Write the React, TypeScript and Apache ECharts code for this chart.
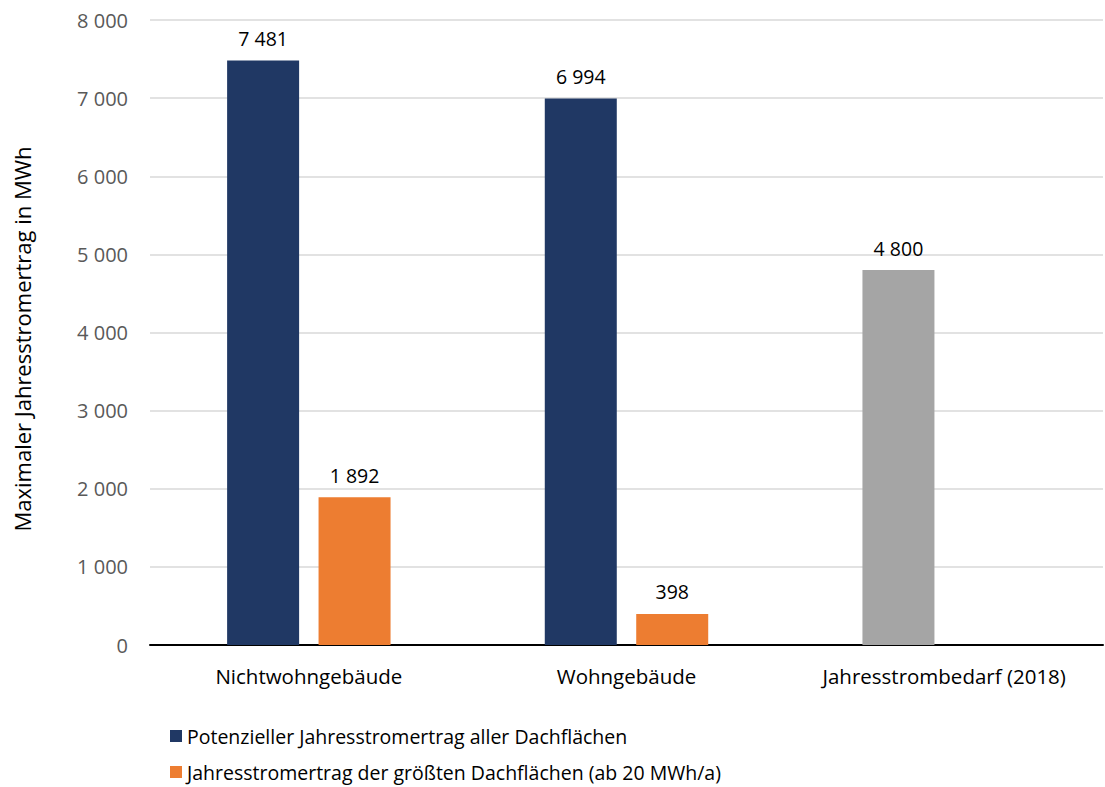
import React, { useEffect, useRef } from "react";
import * as echarts from "echarts";

const categories = ["Nichtwohngebäude", "Wohngebäude", "Jahresstrombedarf (2018)"];
const seriesNames = [
  "Potenzieller Jahresstromertrag aller Dachflächen",
  "Jahresstromertrag der größten Dachflächen (ab 20 MWh/a)",
];
const potenzialValues = [7481, 6994, 4800];
const groessteValues: (number | null)[] = [1892, 398, null];
const yTicks = { min: 0, max: 8000, interval: 1000 };
const yAxisTitle = "Maximaler Jahresstromertrag in MWh";

const fmt = (v: number) => String(v).replace(/\B(?=(\d{3})+(?!\d))/g, " ");

const FONT = "'Open Sans', sans-serif";

export default function App() {
  const ref = useRef<HTMLDivElement>(null);
  useEffect(() => {
    if (!ref.current) return;
    const chart = echarts.init(ref.current, undefined, { renderer: "svg" });
    const labelStyle = {
      show: true,
      position: "top" as const,
      distance: 12,
      color: "#000000",
      fontSize: 19.5,
      fontFamily: FONT,
      formatter: (p: any) => fmt(p.value),
    };
    const legendBase = {
      orient: "vertical",
      left: 165,
      itemWidth: 12,
      itemHeight: 12,
      icon: "rect",
      textStyle: { fontSize: 19.5, color: "#000000", fontFamily: FONT },
    };
    chart.setOption({
      animation: false,
      textStyle: { fontFamily: FONT },
      grid: { left: 150, right: 2, top: 20, bottom: 142, containLabel: false },
      legend: [
        { ...legendBase, top: 721, data: [seriesNames[0]] },
        { ...legendBase, top: 757, data: [seriesNames[1]] },
      ],
      graphic: [
        {
          type: "text",
          x: 22,
          y: 339,
          rotation: Math.PI / 2,
          style: {
            text: yAxisTitle,
            fill: "#000000",
            fontSize: 22,
            fontFamily: FONT,
            align: "center",
            verticalAlign: "middle",
          },
        },
      ],
      xAxis: {
        type: "category",
        data: categories,
        axisLine: { lineStyle: { color: "#000000", width: 2 } },
        axisTick: { show: false },
        axisLabel: { color: "#000000", fontSize: 20.5, margin: 20, fontFamily: FONT },
      },
      yAxis: {
        type: "value",
        min: yTicks.min,
        max: yTicks.max,
        interval: yTicks.interval,
        axisLine: { show: false },
        axisTick: { show: false },
        axisLabel: {
          color: "#595959",
          fontSize: 20,
          margin: 22,
          fontFamily: FONT,
          formatter: (v: number) => fmt(v),
        },
        splitLine: { lineStyle: { color: "#d9d9d9", width: 1.5 } },
      },
      series: [
        {
          name: seriesNames[0],
          type: "bar",
          data: potenzialValues.map((v, i) =>
            i === 2 ? { value: v, itemStyle: { color: "#a5a5a5" } } : v
          ),
          itemStyle: { color: "#203864" },
          barWidth: 72,
          barGap: "27%",
          label: labelStyle,
        },
        {
          name: seriesNames[1],
          type: "bar",
          data: groessteValues,
          itemStyle: { color: "#ed7d31" },
          barWidth: 72,
          label: labelStyle,
        },
      ],
    });
    return () => chart.dispose();
  }, []);
  return (
    <div
      ref={ref}
      style={{ position: "fixed", left: 0, top: 0, width: 1105, height: 787, background: "#ffffff" }}
    />
  );
}
